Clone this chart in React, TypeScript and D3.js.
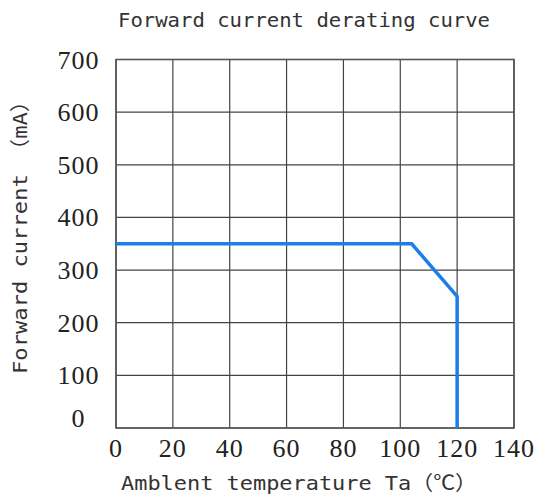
import React from "react";
import * as d3 from "d3";

const xTicks = [0, 20, 40, 60, 80, 100, 120, 140];
const yTicks = [0, 100, 200, 300, 400, 500, 600, 700];
const curveTemp = [0, 104, 120, 120];
const curveCurrent = [350, 350, 250, 0];
const title = "Forward current derating curve";
const xLabel = "Amblent temperature Ta（℃）";
const yLabel = "Forward current （mA）";

const W = 539;
const H = 497;
const L = 116, R = 514, T = 59.5, B = 428;

export default function App() {
  const x = d3.scaleLinear().domain([0, 140]).range([L, R]);
  const y = d3.scaleLinear().domain([0, 700]).range([B, T]);
  const pts: [number, number][] = curveTemp.map((t, i) => [t, curveCurrent[i]]);
  const line = d3
    .line<[number, number]>()
    .x((d) => x(d[0]))
    .y((d) => y(d[1]));
  const mono = "'DejaVu Sans Mono', 'Liberation Mono', 'Noto Sans CJK SC', monospace";
  const serif = "'Liberation Serif', 'DejaVu Serif', serif";
  return (
    <svg width={W} height={H} style={{ position: "absolute", left: 0, top: 0, background: "#fff" }}>
      <rect x={0} y={0} width={W} height={H} fill="#fff" />
      <text x={304} y={27} textAnchor="middle" fontFamily={mono} fontSize={20} fontWeight={300} fill="#333" textLength={372} lengthAdjust="spacingAndGlyphs">
        {title}
      </text>
      {xTicks.map((t) => (
        <line key={"gx" + t} x1={x(t)} x2={x(t)} y1={T} y2={B} stroke="#444" strokeWidth={1.2} />
      ))}
      {yTicks.map((t) => (
        <line key={"gy" + t} x1={L} x2={R} y1={y(t)} y2={y(t)} stroke="#444" strokeWidth={1.2} />
      ))}
      <rect x={L} y={T} width={R - L} height={B - T} fill="none" stroke="#555" strokeWidth={1.6} />
      <path d={line(pts) || ""} fill="none" stroke="#1a80e8" strokeWidth={3.5} strokeLinejoin="miter" />
      {yTicks.map((t) => (
        <text key={"ty" + t} x={78.5} y={t === 0 ? 427 : y(t) + 9} textAnchor="middle" fontFamily={serif} fontSize={26} letterSpacing={1} fill="#222">
          {t}
        </text>
      ))}
      {xTicks.map((t) => (
        <text key={"tx" + t} x={x(t)} y={457} textAnchor="middle" fontFamily={serif} fontSize={26} letterSpacing={1} fill="#222">
          {t}
        </text>
      ))}
      <text x={299} y={490} textAnchor="middle" fontFamily={mono} fontSize={20} fill="#333" textLength={356} lengthAdjust="spacingAndGlyphs">
        {xLabel}
      </text>
      <text
        transform={`translate(27, 232) rotate(-90)`}
        textAnchor="middle"
        fontFamily={mono}
        fontSize={20}
        fill="#333"
        textLength={284}
        lengthAdjust="spacingAndGlyphs"
      >
        {yLabel}
      </text>
    </svg>
  );
}
